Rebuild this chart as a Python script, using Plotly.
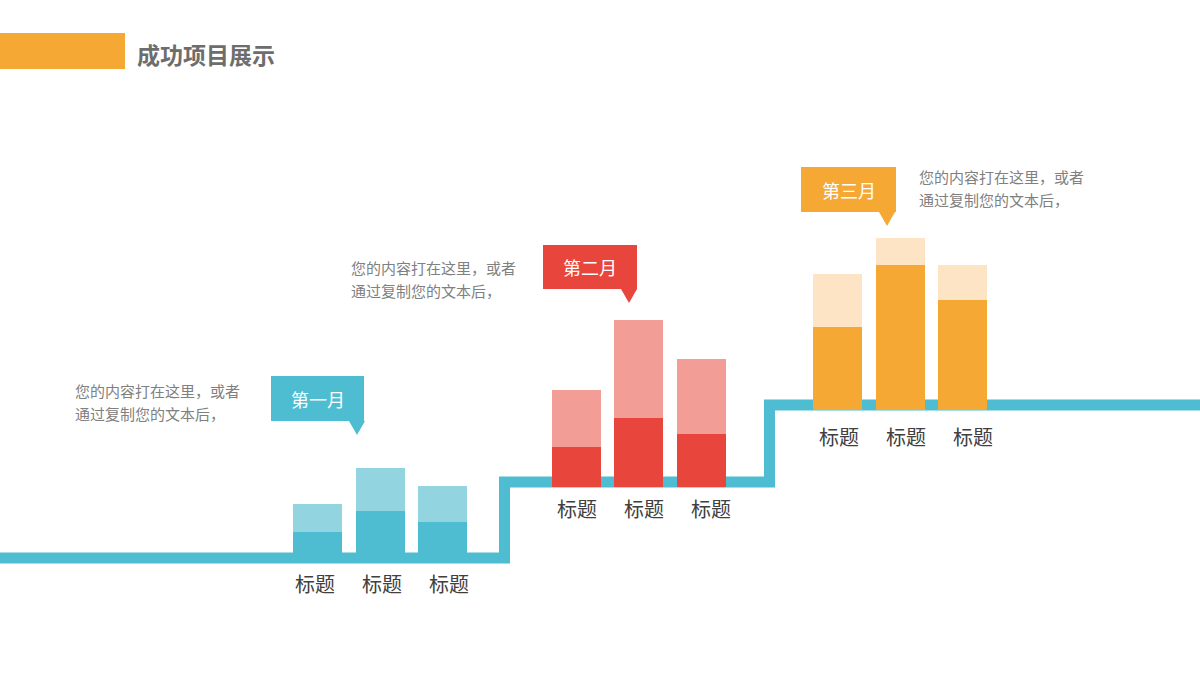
import plotly.graph_objects as go

# ---------------- data ----------------
months = ["第一月", "第二月", "第三月"]
categories = ["标题", "标题", "标题"]
# bar heights above the step line (dark part = value, full bar = total)
dark_values = [
    [21, 42, 31],
    [30, 59, 43],
    [73, 135, 100],
]
total_values = [
    [49, 85, 67],
    [87, 157, 118],
    [126, 162, 135],
]
desc_line1 = "您的内容打在这里，或者"
desc_line2 = "通过复制您的文本后，"
title_text = "成功项目展示"

# ---------------- styles / layout ----------------
W, H = 1200, 680
TEAL = "#4FBDD1"
dark_colors = ["#4FBDD1", "#E8453C", "#F5A934"]
light_colors = ["#92D5E0", "#F29E97", "#FCE4C4"]
FONT = "Noto Sans CJK SC"

def Y(p):
    return H - p

line_centers = [558, 482, 405]
thick = 10
step_x = [0, 504.5, 504.5, 769.5, 769.5, 1200]
group_first_x = [317.5, 576, 837.5]
bar_gap = 62.5
bar_w = 49
label_first_x = [315, 577, 839]
label_gap = 67
label_y = [583, 508, 436]

boxes = [  # x0, x1, y0, y1, tip_x
    (271, 364, 376, 421, 357),
    (543, 637, 245, 289, 629),
    (801, 896, 167, 212, 887),
]
desc_pos = [(73, 390), (349, 267), (917, 176)]

fig = go.Figure()

annotations = []
shapes = []

# step line (drawn below the bars)
sy = [line_centers[0], line_centers[0], line_centers[1], line_centers[1], line_centers[2], line_centers[2]]
path = "M " + " L ".join(f"{x},{Y(y)}" for x, y in zip(step_x, sy))
shapes.append(dict(type="path", path=path, line=dict(color=TEAL, width=thick + 1),
                   layer="below"))

for g in range(3):
    xs = [group_first_x[g] + i * bar_gap for i in range(3)]
    base = Y(line_centers[g] + thick / 2)
    fig.add_trace(go.Bar(x=xs, y=[v + thick for v in total_values[g]], base=base,
                         width=bar_w, marker=dict(color=light_colors[g], line=dict(width=0)),
                         showlegend=False, hoverinfo="skip"))
    fig.add_trace(go.Bar(x=xs, y=[v + thick for v in dark_values[g]], base=base,
                         width=bar_w, marker=dict(color=dark_colors[g], line=dict(width=0)),
                         showlegend=False, hoverinfo="skip"))
    for i, c in enumerate(categories):
        annotations.append(dict(x=label_first_x[g] + i * label_gap, y=Y(label_y[g]), text=c,
                                showarrow=False, xanchor="center", yanchor="middle",
                                font=dict(family=FONT, size=20, color="#404040")))
    x0, x1, y0, y1, tx = boxes[g]
    shapes.append(dict(type="rect", x0=x0, x1=x1, y0=Y(y0), y1=Y(y1),
                       fillcolor=dark_colors[g], line=dict(width=0), layer="above"))
    shapes.append(dict(type="path",
                       path=f"M {tx-8},{Y(y1)} L {tx+8},{Y(y1)} L {tx},{Y(y1+14)} Z",
                       fillcolor=dark_colors[g], line=dict(width=0), layer="above"))
    annotations.append(dict(x=(x0 + x1) / 2, y=Y((y0 + y1) / 2), text=months[g],
                            showarrow=False, xanchor="center", yanchor="middle",
                            font=dict(family=FONT, size=18, color="white")))
    dx, dy = desc_pos[g]
    annotations.append(dict(x=dx, y=Y(dy), text=desc_line1, showarrow=False,
                            xanchor="left", yanchor="middle",
                            font=dict(family=FONT, size=15, color="#808080")))
    annotations.append(dict(x=dx, y=Y(dy + 23), text=desc_line2, showarrow=False,
                            xanchor="left", yanchor="middle",
                            font=dict(family=FONT, size=15, color="#808080")))

# header
shapes.append(dict(type="rect", x0=0, x1=125, y0=Y(33), y1=Y(69),
                   fillcolor="#F5A934", line=dict(width=0), layer="above"))
annotations.append(dict(x=135, y=Y(54), text=f"<b>{title_text}</b>", showarrow=False,
                        xanchor="left", yanchor="middle",
                        font=dict(family=FONT, size=23, color="#6d6d6d")))

fig.update_layout(
    width=W, height=H, margin=dict(l=0, r=0, t=0, b=0),
    paper_bgcolor="white", plot_bgcolor="white",
    barmode="overlay", bargap=0,
    xaxis=dict(range=[0, W], visible=False, fixedrange=True),
    yaxis=dict(range=[0, H], visible=False, fixedrange=True),
    shapes=shapes, annotations=annotations,
)

fig.write_html("out.html")
